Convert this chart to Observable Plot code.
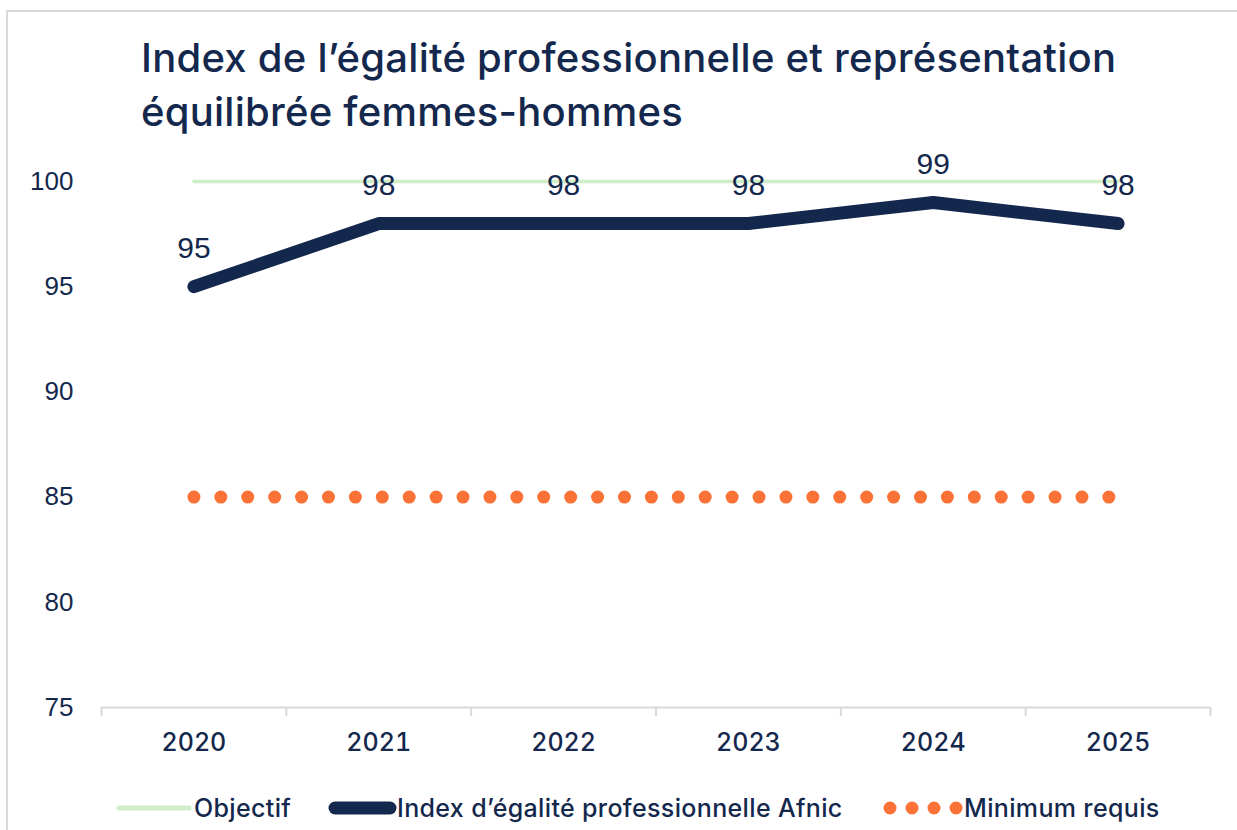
<!DOCTYPE html>
<html><head><meta charset="utf-8">
<script src="https://cdn.jsdelivr.net/npm/d3@7"></script>
<script src="https://cdn.jsdelivr.net/npm/@observablehq/plot@0.6"></script>
<style>
body{margin:0;background:#fff;width:1237px;height:830px;overflow:hidden;position:relative;font-family:Inter,sans-serif;}
#frame{position:absolute;left:6px;top:10px;width:1300px;height:900px;border:2px solid #dadada;box-sizing:border-box;}
#title{position:absolute;left:141px;top:31px;font:500 40px/54px Inter,sans-serif;letter-spacing:0.25px;color:#14284d;white-space:nowrap;}
#chart{position:absolute;left:0;top:140px;}
.leg{position:absolute;top:792px;height:32px;display:flex;align-items:center;font:500 25px Inter,sans-serif;letter-spacing:0.35px;color:#14284d;white-space:nowrap;}
.leg svg{display:block;}
</style>
</head><body>
<div id="frame"></div>
<div id="title"></div>
<div id="chart"></div>
<div id="legend"></div>
<script>
const titleLines = ["Index de l’égalité professionnelle et représentation", "équilibrée femmes-hommes"];
const years = [2020, 2021, 2022, 2023, 2024, 2025];
const indexValues = [95, 98, 98, 98, 99, 98];
const objectifValues = [100, 100, 100, 100, 100, 100];
const minimumValues = [85, 85, 85, 85, 85, 85];
const yTicks = [75, 80, 85, 90, 95, 100];
const seriesNames = ["Objectif", "Index d’égalité professionnelle Afnic", "Minimum requis"];

const navy = "#14284d", green = "#cfeec7", orange = "#fa7236", gray = "#d9d9d9";

document.getElementById("title").innerHTML = titleLines.join("<br>");

const idx = years.map((y, i) => ({year: y, v: indexValues[i]}));
const obj = years.map((y, i) => ({year: y, v: objectifValues[i]}));
const mini = years.map((y, i) => ({year: y, v: minimumValues[i]}));
const bounds = years.map(y => y - 0.5).concat([years[years.length - 1] + 0.5]);

const chart = Plot.plot({
  width: 1237,
  height: 640,
  marginLeft: 101,
  marginRight: 27,
  marginTop: 41,
  marginBottom: 73,
  style: {background: "transparent", overflow: "visible"},
  x: {type: "linear", domain: [bounds[0], bounds[bounds.length - 1]], axis: null, label: null},
  y: {domain: [75, 100], axis: null, label: null},
  marks: [
    Plot.ruleY([75], {stroke: gray, strokeWidth: 2}),
    Plot.ruleX(bounds, {x: d => d, y1: 75, y2: 75, insetBottom: -9, stroke: gray, strokeWidth: 2}),
    Plot.axisX(years, {tickSize: 0, tickPadding: 26, label: null, tickFormat: d => String(d), fontSize: 25, fontFamily: "Inter", fontWeight: 500, fill: navy}),
    Plot.axisY(yTicks, {tickSize: 0, tickPadding: 28, label: null, fontSize: 26, fontFamily: "Liberation Sans", fill: navy}),
    Plot.line(obj, {x: "year", y: "v", stroke: green, strokeWidth: 3.5}),
    Plot.line(idx, {x: "year", y: "v", stroke: navy, strokeWidth: 13, strokeLinecap: "round", strokeLinejoin: "round"}),
    Plot.line(mini, {x: "year", y: "v", stroke: orange, strokeWidth: 13, strokeLinecap: "round", strokeDasharray: "0.01 26.9"}),
    Plot.text(idx, {x: "year", y: "v", text: d => String(d.v), dy: -38, fontSize: 30, fontFamily: "Liberation Sans", fill: navy})
  ]
});
document.getElementById("chart").appendChild(chart);

// legend
const legend = document.getElementById("legend");
const legLefts = [116, 328, 882];
const swatches = [
  `<svg width="78" height="20"><line x1="3" y1="10" x2="73" y2="10" stroke="${green}" stroke-width="5" stroke-linecap="round"/></svg>`,
  `<svg width="69" height="20"><line x1="7" y1="10" x2="62" y2="10" stroke="${navy}" stroke-width="13" stroke-linecap="round"/></svg>`,
  `<svg width="82" height="20"><line x1="8" y1="10" x2="80" y2="10" stroke="${orange}" stroke-width="13" stroke-linecap="round" stroke-dasharray="0.01 22"/></svg>`
];
seriesNames.forEach((name, i) => {
  const d = document.createElement("div");
  d.className = "leg";
  d.style.left = legLefts[i] + "px";
  d.innerHTML = swatches[i] + `<span>${name}</span>`;
  legend.appendChild(d);
});
</script>
</body></html>
